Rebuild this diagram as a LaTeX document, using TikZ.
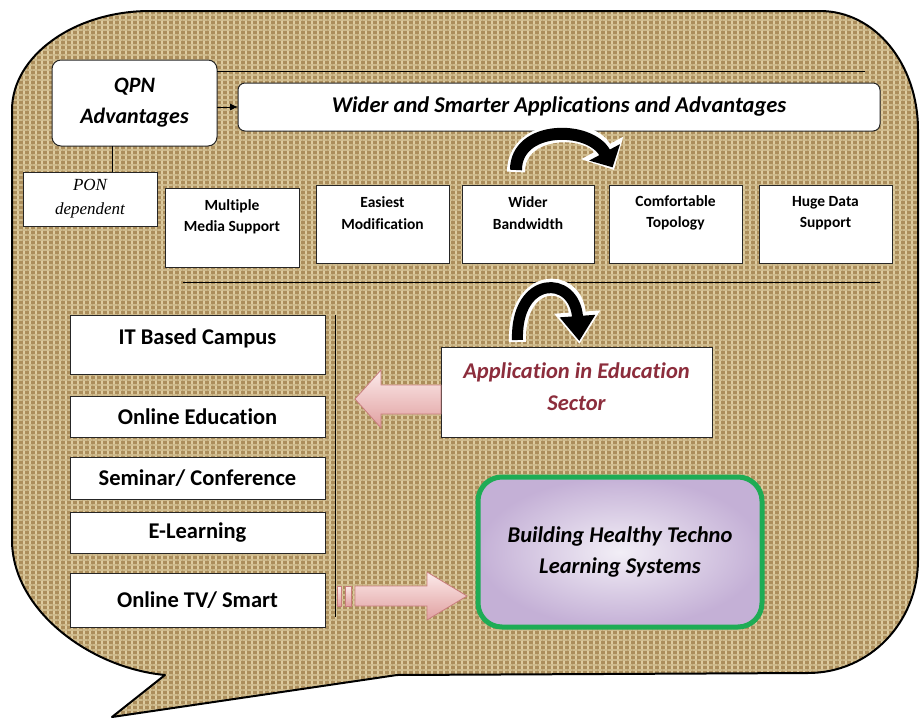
\documentclass[tikz,border=0pt]{standalone}
\usepackage{fontspec}
\setmainfont{Carlito}[Ligatures=NoCommon]
\newfontfamily\tnr{Liberation Serif}
\usetikzlibrary{arrows.meta,patterns.meta,calc}
\definecolor{burlap}{RGB}{172,142,92}
\definecolor{burlapA}{RGB}{222,204,160}
\definecolor{burlapB}{RGB}{206,186,140}
\definecolor{appred}{RGB}{140,45,60}
\definecolor{bgreen}{RGB}{30,172,85}
\definecolor{lavin}{RGB}{242,238,246}
\definecolor{lavout}{RGB}{196,176,214}
\definecolor{pinkL}{RGB}{252,234,234}
\definecolor{pinkD}{RGB}{224,160,160}
\definecolor{pinkB}{RGB}{200,125,125}
\begin{document}
\begin{tikzpicture}[x=1pt,y=-1pt]
\tikzset{
  wbox/.style={draw=black!85, fill=white, line width=1pt, inner sep=0pt, outer sep=0pt, anchor=north west},
  rbox/.style={wbox, rounded corners=9pt},
  headtxt/.style={font=\fontsize{22.5}{31}\selectfont\bfseries\itshape, align=center},
  smalltxt/.style={font=\fontsize{15.5}{21.5}\selectfont\bfseries, align=center},
  midtxt/.style={font=\fontsize{22.5}{26}\selectfont\bfseries, align=center},
  thinline/.style={draw=black, line width=0.9pt},
  pinkarrow/.style={top color=pinkL, bottom color=pinkD, draw=pinkB, line width=0.8pt},
}
\useasboundingbox (0,0) rectangle (922,720);
\fill[white] (0,0) rectangle (922,720);
% speech bubble
\path[preaction={fill=burlap},
      preaction={pattern={Lines[angle=90,distance=6pt,line width=1.8pt]}, pattern color=burlapA},
      preaction={pattern={Lines[angle=0,distance=5pt,line width=1.3pt]}, pattern color=burlapB},
      draw=black, line width=2pt, line join=round]
  (150,11) -- (820,11) .. controls (875,11) and (918,64) .. (918,130)
  -- (918,560) .. controls (918,622) and (870,673) .. (808,673)
  -- (397,675) -- (112,717) -- (165,675)
  .. controls (90,668) and (12,610) .. (12,540)
  -- (12,110) .. controls (12,56) and (74,11) .. (150,11) -- cycle;

% top row
\node[rbox, minimum width=165pt, minimum height=86pt, headtxt, font=\fontsize{22}{31}\selectfont\bfseries\itshape] (qpn) at (52,60) {QPN\\Advantages};
\node[rbox, rounded corners=7pt, minimum width=642pt, minimum height=48pt, headtxt] (wider) at (238,83) {Wider and Smarter Applications and Advantages};
\draw[thinline] ([yshift=-11pt]qpn.north east) -- ++(648,0);
\draw[thinline, -{Latex[length=8pt,width=7pt]}] (qpn.east |- wider.west) -- (wider.west);

\node[wbox, minimum width=134pt, minimum height=54pt, font=\tnr\itshape\fontsize{17}{24}\selectfont, align=center] (pon) at (23,172) {PON\\dependent};
\draw[thinline] ([xshift=-22pt]qpn.south) -- ([xshift=-22pt]qpn.south |- pon.north);

\node[wbox, minimum width=134pt, minimum height=79pt] (mm) at (165,188) {};
\node[smalltxt] at ([yshift=-29pt]mm.north) {Multiple\\Media Support};
\node[wbox, minimum width=133pt, minimum height=78pt] (em) at (316,185) {};
\node[smalltxt] at ([yshift=-28pt]em.north) {Easiest\\Modification};
\node[wbox, minimum width=132pt, minimum height=78pt] (bw) at (462,185) {};
\node[smalltxt] at ([yshift=-28pt]bw.north) {Wider\\Bandwidth};
\node[wbox, minimum width=133pt, minimum height=78pt] (ct) at (609,185) {};
\node[smalltxt] at ([yshift=-28pt]ct.north) {Comfortable\\Topology};
\node[wbox, minimum width=133pt, minimum height=78pt] (hd) at (759,185) {};
\node[smalltxt] at ([yshift=-28pt]hd.north) {Huge Data\\Support};

\draw[thinline] (183,282) -- (880,282);

% curved arrow 1
\coordinate (c1s) at ($(bw.north)+(-12,-13)$);
\coordinate (c1e) at (614,170);
\draw[white, line width=18pt, -{Triangle[width=46pt,length=25pt]}] (c1s) .. controls ($(c1s)+(0,-47)$) and (590,125) .. (c1e);
\draw[black, line width=12pt, shorten >=3pt, -{Triangle[width=34pt,length=17pt]}] ([yshift=2pt]c1s) .. controls ($(c1s)+(0,-47)$) and (590,125) .. (c1e);

% left column
\node[wbox, minimum width=255pt, minimum height=59pt] (it) at (70,315) {};
\node[midtxt] at ([yshift=-23pt]it.north) {IT Based Campus};
\node[wbox, minimum width=255pt, minimum height=41pt, midtxt] (oe) at (70,396) {Online Education};
\node[wbox, minimum width=255pt, minimum height=42pt, midtxt] (sc) at (70,457) {Seminar/ Conference};
\node[wbox, minimum width=255pt, minimum height=41pt, midtxt] (el) at (70,512) {E-Learning};
\node[wbox, minimum width=255pt, minimum height=54pt, midtxt] (tv) at (70,573) {Online TV/ Smart};
\draw[thinline] ([xshift=10pt]it.north east) -- ([xshift=10pt,yshift=-17pt]tv.east);

% application box
\node[wbox, minimum width=271pt, minimum height=90pt] (app) at (441,347) {};
\node[headtxt, text=appred, font=\fontsize{22.5}{32}\selectfont\bfseries\itshape] at ([yshift=5pt]app.center) {Application in Education\\Sector};

% curved arrow 2
\coordinate (c2s) at ($(app.north)+(-59,-5)$);
\coordinate (c2e) at ($(app.north)+(3,-3)$);
\draw[white, line width=17pt, -{Triangle[width=44pt,length=32pt]}] (c2s) .. controls ($(c2s)+(-2,-67)$) and ($(c2e)+(-5,-70)$) .. (c2e);
\draw[black, line width=11pt, shorten >=3pt, -{Triangle[width=34pt,length=25pt]}] ([yshift=2pt]c2s) .. controls ($(c2s)+(-2,-67)$) and ($(c2e)+(-5,-70)$) .. (c2e);

% pink left arrow
\coordinate (la) at ($(app.west)+(0,7)$);
\shade[pinkarrow] ([shift={(0,-14)}]la) -- ++(-60,0) -- ++(0,-15) -- ++(-26,29) -- ++(26,29) -- ++(0,-14) -- ++(60,0) -- cycle;

% building box
\node[draw=bgreen, line width=5pt, rounded corners=24pt, inner color=lavin, outer color=lavout,
      minimum width=284pt, minimum height=150pt, anchor=north west, inner sep=0pt,
      headtxt, font=\fontsize{22.5}{31}\selectfont\bfseries\itshape] (build) at (475.5,474.5) {Building Healthy Techno\\Learning Systems};

% pink right arrow
\coordinate (ra) at ($(tv.east)+(12,-4)$);
\shade[pinkarrow] ([shift={(0,-10)}]ra) rectangle ++(4,20);
\shade[pinkarrow] ([shift={(8,-10)}]ra) rectangle ++(6,20);
\shade[pinkarrow] ([shift={(18,-10)}]ra) -- ++(72,0) -- ++(0,-14) -- ++(40,24) -- ++(-40,24) -- ++(0,-14) -- ++(-72,0) -- cycle;
\end{tikzpicture}
\end{document}
